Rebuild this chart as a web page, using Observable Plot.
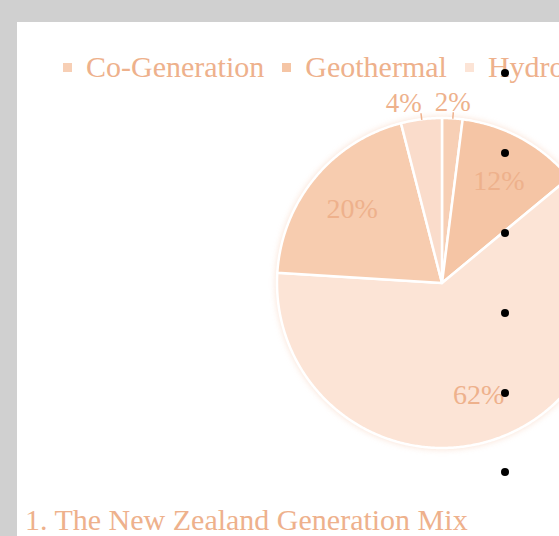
<!DOCTYPE html>
<html>
<head>
<meta charset="utf-8">
<script src="https://cdn.jsdelivr.net/npm/d3@7"></script>
<script src="https://cdn.jsdelivr.net/npm/@observablehq/plot@0.6"></script>
<style>
  html, body { margin: 0; padding: 0; width: 559px; height: 536px; overflow: hidden; background: #d0d0d0; }
  #panel { position: absolute; left: 17px; top: 22px; width: 700px; height: 600px; background: #ffffff; }
  #chart { position: absolute; left: 0; top: 0; width: 700px; height: 536px; }
  #chart svg { max-width: none !important; width: 700px !important; height: 536px !important; }
  #chart svg g[aria-label="area"] { filter: drop-shadow(0 0 3px rgba(240, 170, 130, 0.35)); }
  #legend { position: absolute; left: 63px; top: 52px; height: 30px; display: flex; align-items: center; white-space: nowrap;
            font-family: "Liberation Serif", "Times New Roman", serif; font-size: 30px; line-height: 30px; color: #eeb18c; }
  #legend .item { display: flex; align-items: center; margin-right: 18px; }
  #legend .sw { width: 9px; height: 9px; margin-right: 14px; }
  #caption { position: absolute; left: 25px; top: 505px; font-family: "Liberation Serif", "Times New Roman", serif;
             font-size: 30px; line-height: 30px; color: #eeb18c; white-space: nowrap; }
  .bullet { position: absolute; width: 8px; height: 8px; border-radius: 50%; background: #000; }
</style>
</head>
<body>
<div id="panel"></div>
<div id="chart"></div>
<div id="legend"></div>
<div id="caption">1. The New Zealand Generation Mix</div>
<script>
const categories = ["Co-Generation", "Geothermal", "Hydro", "Thermal", "Wind"];
const shares = [2, 12, 62, 20, 4];
const colors = ["#f7cfb5", "#f5c5a5", "#fce4d6", "#f7ccaf", "#fadccb"];
const textColor = "#eeb18c";
const bulletRows = [73, 152.5, 233, 313, 393, 472];

// legend
const legend = document.getElementById("legend");
categories.forEach((c, i) => {
  const it = document.createElement("div");
  it.className = "item";
  const sw = document.createElement("div");
  sw.className = "sw";
  sw.style.background = colors[i];
  it.appendChild(sw);
  const t = document.createElement("span");
  t.textContent = c;
  it.appendChild(t);
  legend.appendChild(it);
});

// pie geometry from the data
const total = d3.sum(shares);
let acc = 0;
const slices = categories.map((name, i) => {
  const a0 = acc / total * 2 * Math.PI;
  acc += shares[i];
  const a1 = acc / total * 2 * Math.PI;
  return {name, value: shares[i], a0, a1, mid: (a0 + a1) / 2};
});
const pts = [];
for (const s of slices) {
  const n = Math.max(2, Math.ceil((s.a1 - s.a0) / (Math.PI / 360)));
  for (let k = 0; k <= n; k++) {
    const a = s.a0 + (s.a1 - s.a0) * k / n;
    pts.push({name: s.name, x: Math.sin(a), y: Math.cos(a)});
  }
}
const inside = slices.filter(s => s.value >= 10);
const outside = slices.filter(s => s.value < 10);
const font = "Liberation Serif";

const cx = 442, cy = 283, r = 165;
const chart = Plot.plot({
  width: 700,
  height: 536,
  margin: 0,
  style: {background: "transparent", overflow: "visible"},
  x: {domain: [-1, 1], range: [cx - r, cx + r], axis: null},
  y: {domain: [-1, 1], range: [cy + r, cy - r], axis: null},
  color: {domain: categories, range: colors},
  marks: [
    Plot.area(pts, {x1: "x", y1: "y", x2: 0, y2: 0, z: "name", fill: "name", stroke: "white", strokeWidth: 2.5, strokeLinejoin: "round", curve: "linear"}),
    Plot.text(inside, {x: d => 0.71 * Math.sin(d.mid), y: d => 0.71 * Math.cos(d.mid), text: d => d.value + "%",
      fontSize: 28, fontFamily: font, fill: textColor, textAnchor: "middle", lineAnchor: "middle"}),
    Plot.link(outside, {x1: d => Math.sin(d.mid), y1: d => Math.cos(d.mid), x2: d => 1.04 * Math.sin(d.mid), y2: d => 1.04 * Math.cos(d.mid),
      stroke: textColor, strokeWidth: 1.5}),
    Plot.text(outside.filter(d => d.mid > Math.PI), {x: d => Math.sin(d.mid), y: d => 1.1 * Math.cos(d.mid), text: d => d.value + "%",
      fontSize: 27, fontFamily: font, fill: textColor, textAnchor: "end", lineAnchor: "middle"}),
    Plot.text(outside.filter(d => d.mid <= Math.PI), {x: d => Math.sin(d.mid), y: d => 1.1 * Math.cos(d.mid), text: d => d.value + "%",
      fontSize: 27, fontFamily: font, fill: textColor, textAnchor: "middle", lineAnchor: "middle"})
  ]
});
document.getElementById("chart").appendChild(chart);

// overlay bullets (page artefact in the reference)
for (const y of bulletRows) {
  const b = document.createElement("div");
  b.className = "bullet";
  b.style.left = (505 - 4) + "px";
  b.style.top = (y - 4) + "px";
  document.body.appendChild(b);
}
</script>
</body>
</html>
